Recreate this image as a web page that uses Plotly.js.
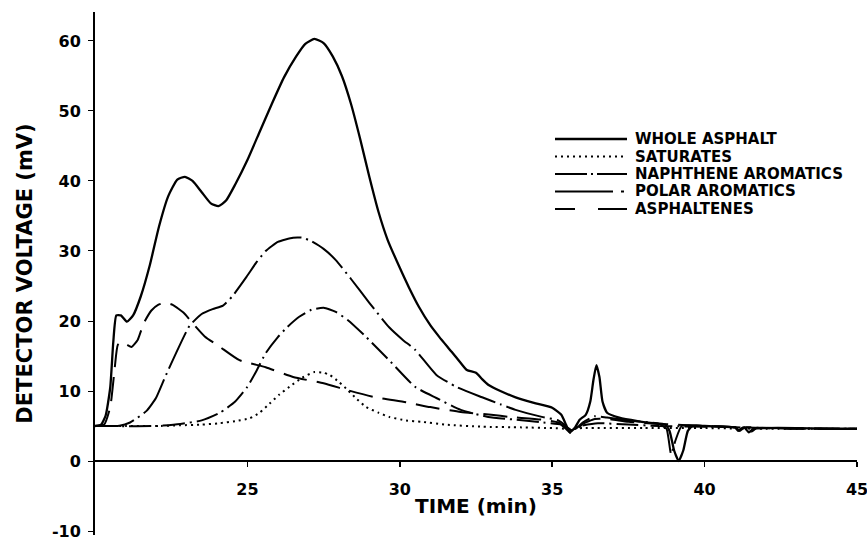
<!DOCTYPE html>
<html>
<head>
<meta charset="utf-8">
<script src="https://cdn.plot.ly/plotly-3.0.1.min.js"></script>
<style>
html,body{margin:0;padding:0;background:#fff;}
#chart{width:867px;height:539px;}
</style>
</head>
<body>
<div id="chart"></div>
<script>
// ---- data (time in min, detector voltage in mV) ----
const seriesNames = ["WHOLE ASPHALT", "SATURATES", "NAPHTHENE AROMATICS", "POLAR AROMATICS", "ASPHALTENES"];

const wholeT = [20.0,20.2,20.35,20.5,20.6,20.7,20.85,21.05,21.25,21.5,21.8,22.1,22.4,22.7,22.95,23.2,23.5,23.8,24.05,24.3,24.6,25.0,25.4,25.8,26.2,26.6,26.9,27.2,27.5,27.8,28.1,28.4,28.7,29.0,29.3,29.6,30.0,30.3,30.63,31.0,31.3,31.7,32.0,32.2,32.5,32.7,32.9,33.3,33.8,34.4,35.0,35.3,35.45,35.58,35.75,35.9,36.1,36.25,36.35,36.45,36.55,36.65,36.8,37.2,37.8,38.3,38.7,38.85,39.0,39.15,39.3,39.45,39.6,40.0,40.6,41.0,41.15,41.3,41.45,41.6,42.0,43.0,44.0,45.0];
const wholeV = [5.0,5.2,6.5,10.5,17.0,20.8,20.8,19.9,20.8,23.5,28.0,33.5,37.8,40.2,40.6,40.0,38.4,36.8,36.4,37.2,39.5,43.0,47.0,51.0,54.8,57.8,59.6,60.3,59.7,57.8,55.0,51.0,46.0,40.6,35.6,31.6,27.6,24.8,22.0,19.4,17.7,15.6,14.0,13.0,12.6,11.7,10.9,10.0,9.1,8.3,7.6,6.6,5.2,4.1,4.8,5.9,6.6,8.5,11.5,13.7,12.0,8.5,6.9,6.2,5.7,5.4,5.2,4.3,1.5,0.0,1.5,4.3,5.0,5.0,4.9,4.8,4.3,4.8,4.1,4.6,4.7,4.7,4.6,4.6];

const satT = [20.0,21.0,22.0,22.8,23.5,24.1,24.6,25.07,25.4,25.73,26.05,26.38,26.8,27.2,27.5,27.7,28.0,28.3,28.6,28.9,29.3,29.65,30.2,30.7,31.5,32.7,34.0,35.0,35.5,36.0,38.0,40.0,42.0,45.0];
const satV = [5.0,5.0,5.0,5.1,5.2,5.4,5.7,6.1,6.9,8.2,9.5,10.6,11.9,12.7,12.6,12.3,11.3,10.1,8.8,7.7,6.9,6.3,5.8,5.6,5.2,4.9,4.8,4.7,4.6,4.7,4.7,4.7,4.6,4.6];

const naphT = [20.0,22.0,22.8,23.5,24.1,24.6,25.0,25.3,25.6,26.0,26.3,26.7,27.1,27.5,27.9,28.3,28.9,29.65,30.5,31.2,32.0,32.9,33.8,34.7,35.3,35.6,35.9,36.5,37.5,38.5,40.0,41.4,41.55,41.7,43.0,45.0];
const naphV = [5.0,5.0,5.3,5.8,6.9,8.5,10.6,12.9,15.4,17.7,19.1,20.6,21.6,21.9,21.3,20.1,17.7,14.4,10.6,9.0,7.3,6.3,5.9,5.5,5.2,4.5,5.0,5.4,5.2,5.0,4.9,4.7,4.2,4.7,4.6,4.6];

const polarT = [20.0,20.8,21.15,21.4,21.7,22.0,22.3,22.7,23.1,23.5,23.86,24.2,24.5,24.97,25.3,25.6,26.0,26.5,26.8,27.1,27.5,27.9,28.4,29.0,29.65,30.1,30.5,31.2,31.85,32.7,33.3,33.8,34.66,35.2,35.45,35.6,35.8,36.0,36.4,36.8,37.5,38.5,38.75,38.9,39.05,39.25,40.0,41.0,41.1,41.25,42.0,45.0];
const polarV = [5.0,5.05,5.5,6.2,7.2,9.0,12.0,15.8,19.3,21.0,21.7,22.2,23.5,26.3,28.4,30.0,31.3,31.9,31.9,31.4,30.3,28.7,26.0,22.6,19.1,17.3,15.9,12.3,10.6,9.1,8.1,7.3,6.3,5.8,5.0,4.4,4.7,5.5,6.4,6.2,5.8,5.3,4.6,1.0,3.0,5.0,5.0,4.8,4.3,4.8,4.7,4.6];

const asphT = [20.0,20.3,20.5,20.65,20.75,20.9,21.05,21.2,21.4,21.6,21.85,22.07,22.3,22.55,22.9,23.2,23.6,24.1,24.74,25.6,26.5,27.5,28.3,29.2,30.2,31.0,32.0,33.0,33.6,34.66,35.2,35.45,35.6,35.8,36.0,36.4,36.8,37.5,38.5,40.0,42.0,45.0];
const asphV = [5.0,5.2,7.7,13.4,16.6,17.0,16.6,16.3,17.3,19.7,21.5,22.3,22.6,22.3,21.2,19.7,17.8,16.3,14.4,13.4,12.0,11.1,10.1,9.1,8.4,7.7,7.0,6.6,6.3,5.9,5.5,4.6,4.0,4.4,5.3,6.0,6.0,5.6,5.3,5.0,4.7,4.6];

const xTickVals = [25, 30, 35, 40, 45];
const yTickVals = [-10, 0, 10, 20, 30, 40, 50, 60];

// ---- styles ----
const FONT = "DejaVu Sans";
const dashes = ["solid", "2px,4px", "22px,5px,2px,5px", "40px,5px,2px,5px", "24px,10px"];
const widths = [2.3, 2, 2, 2, 2];

const xs = [wholeT, satT, naphT, polarT, asphT];
const ys = [wholeV, satV, naphV, polarV, asphV];

const traces = seriesNames.map((n, i) => ({
  type: "scatter", mode: "lines", name: n,
  x: xs[i], y: ys[i],
  line: {color: "#000", width: widths[i], dash: dashes[i], shape: "spline", smoothing: 0.5},
  showlegend: false, hoverinfo: "skip"
}));

// plot area geometry
const L = 95, R = 10, T = 12, B = 4, W = 867, H = 539;
const pw = W - L - R, ph = H - T - B;
const yMin = -10.57, yMax = 64.14;

// legend drawn as paper-space lines + text
const legRowsPx = [139, 156.5, 174, 191.5, 209];
const legDash = ["solid", "2px,4px", "32px,4px,2px,4px,30px", "58px,8px,3px,20px", "20px,23px,30px"];
const shapes = [], annotations = [];
legRowsPx.forEach((py, i) => {
  const yp = (H - B - py) / ph;
  shapes.push({type: "line", xref: "paper", yref: "paper",
    x0: (555 - L) / pw, x1: (627 - L) / pw, y0: yp, y1: yp,
    line: {color: "#000", width: i === 0 ? 2.3 : 2, dash: legDash[i]}});
  annotations.push({xref: "paper", yref: "paper", x: (634 - L) / pw, y: yp,
    xanchor: "left", yanchor: "middle", showarrow: false, text: seriesNames[i],
    borderpad: 0,
    font: {family: FONT, size: 15, weight: "bold", color: "#000"}});
});

const layout = {
  width: W, height: H,
  margin: {l: L, r: R, t: T, b: B, pad: 0},
  paper_bgcolor: "#fff", plot_bgcolor: "#fff",
  showlegend: false,
  xaxis: {
    range: [20, 45], anchor: "free", position: (0 - yMin) / (yMax - yMin),
    showline: true, linecolor: "#000", linewidth: 2,
    ticks: "outside", ticklen: 5, tickwidth: 1.5, tickcolor: "#000",
    tickvals: xTickVals, ticktext: xTickVals.map(String),
    ticklabelstandoff: 9, ticklabeloverflow: "allow",
    tickfont: {family: FONT, size: 16, weight: "bold", color: "#000"},
    showgrid: false, zeroline: false,
    title: {text: "TIME (min)", font: {family: FONT, size: 20, weight: "bold", color: "#000"}, standoff: 0}
  },
  yaxis: {
    range: [yMin, yMax],
    showline: true, linecolor: "#000", linewidth: 2,
    ticks: "outside", ticklen: 5, tickwidth: 1, tickcolor: "#000",
    tickvals: yTickVals, ticktext: yTickVals.map(String),
    ticklabelstandoff: 4, ticklabeloverflow: "allow",
    tickfont: {family: FONT, size: 16, weight: "bold", color: "#000"},
    showgrid: false, zeroline: false,
    title: {text: "DETECTOR VOLTAGE (mV)", font: {family: FONT, size: 21, weight: "bold", color: "#000"}, standoff: 14}
  },
  shapes: shapes,
  annotations: annotations
};

Plotly.newPlot("chart", traces, layout, {displayModeBar: false, staticPlot: true});
</script>
</body>
</html>
